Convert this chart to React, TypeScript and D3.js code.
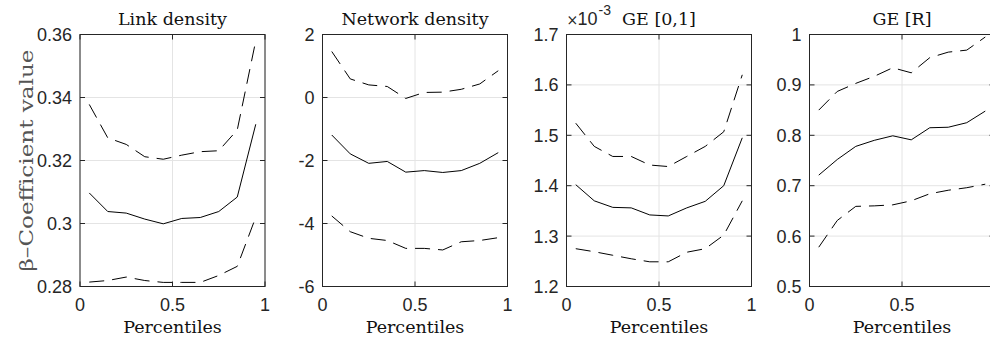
import React from "react";
import * as d3 from "d3";

const percentiles = [0.05, 0.15, 0.25, 0.35, 0.45, 0.55, 0.65, 0.75, 0.85, 0.95];

const linkMean = [0.3097, 0.3038, 0.3033, 0.3014, 0.2999, 0.3016, 0.3019, 0.3038, 0.3084, 0.3315];
const linkUpper = [0.3378, 0.3272, 0.3251, 0.3212, 0.3204, 0.3217, 0.3228, 0.3231, 0.3297, 0.3580];
const linkLower = [0.2814, 0.2819, 0.2830, 0.2819, 0.2813, 0.2813, 0.2813, 0.2835, 0.2864, 0.3020];

const netMean = [-1.19, -1.79, -2.09, -2.03, -2.37, -2.32, -2.38, -2.32, -2.09, -1.75];
const netUpper = [1.46, 0.59, 0.40, 0.35, -0.03, 0.16, 0.17, 0.26, 0.43, 0.85];
const netLower = [-3.76, -4.26, -4.47, -4.54, -4.79, -4.79, -4.84, -4.58, -4.54, -4.45];

// GE [0,1] values in units of 1e-3
const ge01Mean = [1.402, 1.370, 1.357, 1.356, 1.342, 1.340, 1.356, 1.369, 1.400, 1.495];
const ge01Upper = [1.524, 1.478, 1.458, 1.458, 1.441, 1.438, 1.458, 1.478, 1.507, 1.620];
const ge01Lower = [1.275, 1.269, 1.262, 1.255, 1.249, 1.249, 1.268, 1.275, 1.302, 1.370];

const geRMean = [0.721, 0.752, 0.778, 0.790, 0.799, 0.791, 0.815, 0.816, 0.825, 0.848];
const geRUpper = [0.850, 0.887, 0.903, 0.917, 0.934, 0.924, 0.954, 0.965, 0.969, 0.995];
const geRLower = [0.578, 0.631, 0.659, 0.660, 0.662, 0.670, 0.684, 0.691, 0.696, 0.703];

const titles = ["Link density", "Network density", "GE [0,1]", "GE [R]"];
const xTicks = [0, 0.5, 1];
const xTickLabels = ["0", "0.5", "1"];
const yTicks1 = [0.28, 0.3, 0.32, 0.34, 0.36];
const yTickLabels1 = ["0.28", "0.3", "0.32", "0.34", "0.36"];
const yTicks2 = [-6, -4, -2, 0, 2];
const yTickLabels2 = ["-6", "-4", "-2", "0", "2"];
const yTicks3 = [1.2, 1.3, 1.4, 1.5, 1.6, 1.7];
const yTickLabels3 = ["1.2", "1.3", "1.4", "1.5", "1.6", "1.7"];
const yTicks4 = [0.5, 0.6, 0.7, 0.8, 0.9, 1];
const yTickLabels4 = ["0.5", "0.6", "0.7", "0.8", "0.9", "1"];
const yLabel = "β–Coefficient value";
const xLabel = "Percentiles";

const panels = [
  { title: titles[0], mean: linkMean, upper: linkUpper, lower: linkLower, ticks: yTicks1, labels: yTickLabels1, exp: false },
  { title: titles[1], mean: netMean, upper: netUpper, lower: netLower, ticks: yTicks2, labels: yTickLabels2, exp: false },
  { title: titles[2], mean: ge01Mean, upper: ge01Upper, lower: ge01Lower, ticks: yTicks3, labels: yTickLabels3, exp: true },
  { title: titles[3], mean: geRMean, upper: geRUpper, lower: geRLower, ticks: yTicks4, labels: yTickLabels4, exp: false },
];

const W = 990;
const H = 338;
const lefts = [80, 322.5, 566.5, 809.5];
const PW = 185;
const TOP = 34.5;
const BOTTOM = 286.5;
const SANS = '"Liberation Sans", Arial, sans-serif';
const SERIF = '"DejaVu Serif", serif';
const AX = "#262626";
const GRID = "#e4e4e4";
const TICK = 5;

const sans = (size: number) => ({ fontFamily: SANS, fontSize: size + "px" });
const serif = (size: number) => ({ fontFamily: SERIF, fontSize: size + "px" });

function Panel({ p, left }: { p: typeof panels[0]; left: number }) {
  const x = d3.scaleLinear().domain([0, 1]).range([left, left + PW]);
  const y = d3
    .scaleLinear()
    .domain([p.ticks[0], p.ticks[p.ticks.length - 1]])
    .range([BOTTOM, TOP]);
  const line = d3
    .line<number>()
    .x((_, i) => x(percentiles[i]))
    .y((d) => y(d));
  const right = left + PW;
  const cx = x(0.5);
  return (
    <g>
      {xTicks.map((t) => (
        <line key={"gx" + t} x1={x(t)} x2={x(t)} y1={TOP} y2={BOTTOM} stroke={GRID} strokeWidth={1} />
      ))}
      {p.ticks.map((t) => (
        <line key={"gy" + t} x1={left} x2={right} y1={y(t)} y2={y(t)} stroke={GRID} strokeWidth={1} />
      ))}
      <path d={line(p.upper) || ""} fill="none" stroke="#000" strokeWidth={1} strokeDasharray="15 8" />
      <path d={line(p.mean) || ""} fill="none" stroke="#000" strokeWidth={1} />
      <path d={line(p.lower) || ""} fill="none" stroke="#000" strokeWidth={1} strokeDasharray="15 8" />
      <rect x={left} y={TOP} width={PW} height={BOTTOM - TOP} fill="none" stroke={AX} strokeWidth={1} />
      {xTicks.map((t) => (
        <g key={"tx" + t}>
          <line x1={x(t)} x2={x(t)} y1={BOTTOM} y2={BOTTOM - TICK} stroke={AX} />
          <line x1={x(t)} x2={x(t)} y1={TOP} y2={TOP + TICK} stroke={AX} />
        </g>
      ))}
      {p.ticks.map((t) => (
        <g key={"ty" + t}>
          <line x1={left} x2={left + TICK} y1={y(t)} y2={y(t)} stroke={AX} />
          <line x1={right} x2={right - TICK} y1={y(t)} y2={y(t)} stroke={AX} />
        </g>
      ))}
      {xTicks
        .filter((t) => x(t) + 5 < W)
        .map((t) => (
          <text key={"lx" + t} x={x(t)} y={311} textAnchor="middle" style={sans(18)} fill={AX}>
            {xTickLabels[xTicks.indexOf(t)]}
          </text>
        ))}
      {p.ticks.map((t, i) => (
        <text key={"ly" + t} x={left - 8} y={y(t) + 6.5} textAnchor="end" style={sans(18)} fill={AX}>
          {p.labels[i]}
        </text>
      ))}
      <text x={cx} y={25} textAnchor="middle" style={serif(17.5)} fill="#111">
        {p.title}
      </text>
      {p.exp && (
        <g>
          <text x={left} y={25} style={serif(14)} fill={AX}>
            ×
          </text>
          <text x={left + 11} y={25} style={sans(18)} fill={AX}>
            10
          </text>
          <text x={left + 32} y={15} style={sans(14)} fill={AX}>
            -3
          </text>
        </g>
      )}
      <text x={cx} y={333} textAnchor="middle" style={serif(17.5)} fill="#111">
        {xLabel}
      </text>
    </g>
  );
}

export default function App() {
  return (
    <svg
      width={W}
      height={H}
      viewBox={`0 0 ${W} ${H}`}
      style={{ position: "fixed", left: 0, top: 0, background: "#fff" }}
    >
      <rect x={0} y={0} width={W} height={H} fill="#fff" />
      {panels.map((p, i) => (
        <Panel key={i} p={p} left={lefts[i]} />
      ))}
      <text
        transform={`translate(33, ${(TOP + BOTTOM) / 2}) rotate(-90)`}
        textAnchor="middle"
        style={serif(18)}
        fill="#555"
        textLength={222}
        lengthAdjust="spacingAndGlyphs"
      >
        {yLabel}
      </text>
    </svg>
  );
}
